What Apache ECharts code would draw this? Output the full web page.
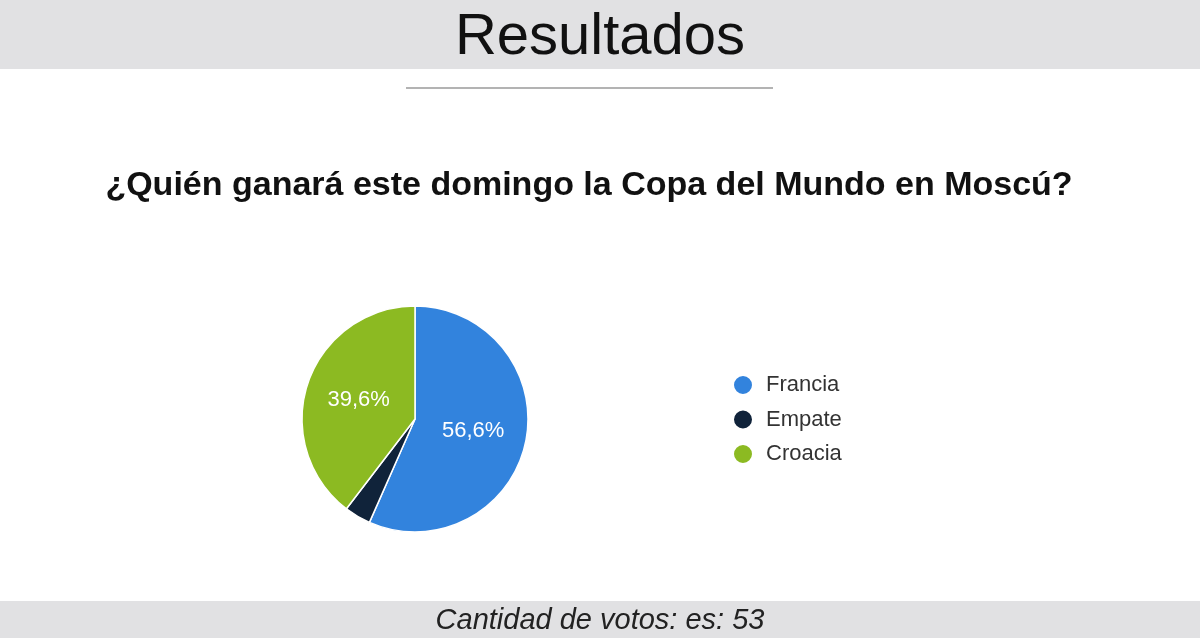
<!DOCTYPE html>
<html>
<head>
<meta charset="utf-8">
<script src="https://cdn.jsdelivr.net/npm/echarts@6/dist/echarts.min.js"></script>
<style>
  html, body { margin: 0; padding: 0; background: #fff; }
  #chart-container { width: 1200px; height: 638px; }
</style>
</head>
<body>
<div id="chart-container"></div>
<script>
// datos de la encuesta
const opciones = ['Francia', 'Empate', 'Croacia'];
const votos = [30, 2, 21];
const colores = ['#3283dd', '#10233a', '#8cba22'];

const totalVotos = votos.reduce((a, b) => a + b, 0);

const fuente = '"Liberation Sans", Arial, sans-serif';

const chartOption = {
  animation: false,
  color: colores,
  graphic: [
    // banda superior
    { type: 'rect', shape: { x: 0, y: 0, width: 1200, height: 69 }, style: { fill: '#e1e1e3' }, z: 0 },
    // banda inferior
    { type: 'rect', shape: { x: 0, y: 601, width: 1200, height: 37 }, style: { fill: '#e1e1e3' }, z: 0 },
    // linea bajo el titulo
    { type: 'line', shape: { x1: 406, y1: 88, x2: 773, y2: 88 }, style: { stroke: '#9a9a9a', lineWidth: 1.5 } },
    {
      type: 'text', x: 600, y: 38,
      style: { text: 'Resultados', fill: '#111', font: '58px ' + fuente, textAlign: 'center', textVerticalAlign: 'middle' }
    },
    {
      type: 'text', x: 589, y: 186,
      style: { text: '¿Quién ganará este domingo la Copa del Mundo en Moscú?', fill: '#111', font: 'bold 34px ' + fuente, textAlign: 'center', textVerticalAlign: 'middle' }
    },
    {
      type: 'text', x: 600, y: 621,
      style: { text: 'Cantidad de votos: es: ' + totalVotos, fill: '#222', font: 'italic 29px ' + fuente, textAlign: 'center', textVerticalAlign: 'middle' }
    }
  ],
  legend: {
    orient: 'vertical',
    left: 732,
    top: 374,
    padding: 0,
    icon: 'circle',
    itemWidth: 20,
    itemHeight: 20,
    itemGap: 12.5,
    data: opciones,
    textStyle: { fontFamily: fuente, fontSize: 22, color: '#333', padding: [0, 0, 0, 8] }
  },
  series: [{
    name: 'Votos',
    type: 'pie',
    center: [415, 419],
    radius: 113,
    startAngle: 90,
    clockwise: true,
    avoidLabelOverlap: false,
    itemStyle: { borderColor: '#fff', borderWidth: 1.5 },
    label: {
      position: 'inside',
      color: '#fff',
      fontFamily: fuente,
      fontSize: 22,
      formatter: p => (p.value / totalVotos * 100).toFixed(1).replace('.', ',') + '%'
    },
    labelLine: { show: false },
    emphasis: { disabled: true },
    data: opciones.map((nombre, i) => ({
      name: nombre,
      value: votos[i],
      label: { show: votos[i] / totalVotos > 0.05 }
    }))
  }]
};

const chartContainer = document.getElementById('chart-container');
const chart = echarts.init(chartContainer);
chart.setOption(chartOption);
</script>
</body>
</html>
